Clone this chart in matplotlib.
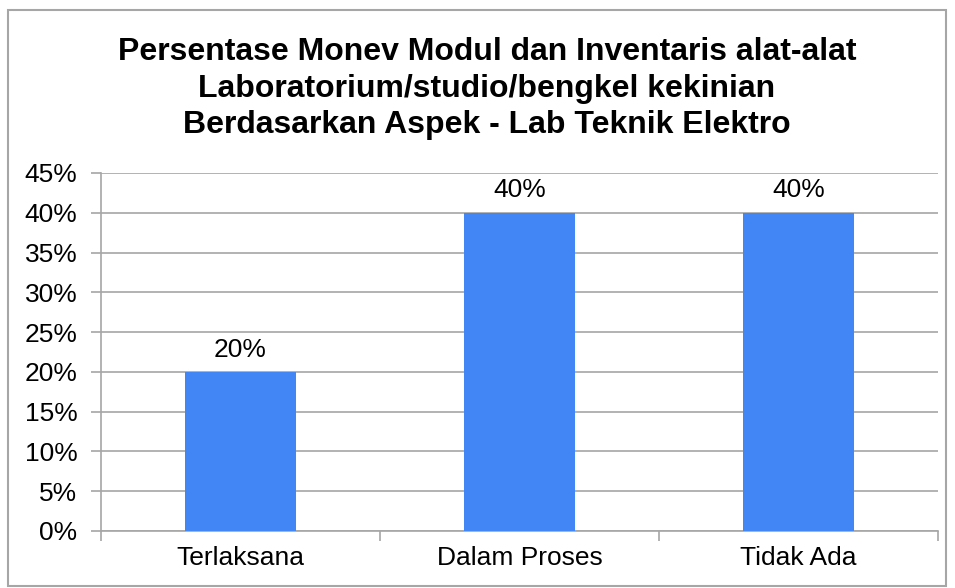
import matplotlib
matplotlib.use("Agg")
import matplotlib.pyplot as plt
from matplotlib.patches import Rectangle
from matplotlib.ticker import MultipleLocator, FuncFormatter

categories = ["Terlaksana", "Dalam Proses", "Tidak Ada"]
values = [20, 40, 40]
title = ("Persentase Monev Modul dan Inventaris alat-alat\n"
         "Laboratorium/studio/bengkel kekinian\n"
         "Berdasarkan Aspek - Lab Teknik Elektro")

plt.rcParams['font.family'] = ['Liberation Sans', 'DejaVu Sans']

W, H = 955, 588
fig = plt.figure(figsize=(W/100, H/100), dpi=100)
ax = fig.add_axes([101/W, 1-531/H, (938-101)/W, (531-173)/H])

FS = 19
x = range(len(categories))
ax.bar(x, values, width=0.40, color="#4285F4", zorder=3)
for xi, v in zip(x, values):
    ax.text(xi, v + 1.3, f"{v}%", ha="center", va="bottom", fontsize=FS)

ax.set_xlim(-0.5, len(categories) - 0.5)
ax.set_ylim(0, 45)
ax.yaxis.set_major_locator(MultipleLocator(5))
ax.yaxis.set_major_formatter(FuncFormatter(lambda v, p: f"{int(round(v))}%"))
ax.grid(axis="y", color="#A6A6A6", linewidth=1.2, zorder=0)
ax.set_xticks(x)
ax.set_xticklabels(categories, fontsize=FS)
ax.tick_params(axis="x", length=0, pad=11)
ax.set_xticks([-0.5, 0.5, 1.5, 2.5], minor=True)
ax.tick_params(axis="x", which="minor", length=7, color="#A6A6A6", width=1.2)
ax.tick_params(axis="y", length=7, color="#A6A6A6", width=1.2, labelsize=FS, pad=10)
for s in ["top", "right"]:
    ax.spines[s].set_visible(False)
for s in ["left", "bottom"]:
    ax.spines[s].set_color("#A6A6A6")
    ax.spines[s].set_linewidth(1.2)

fig.text(487/W, 1-37/H, title, ha="center", va="top", fontsize=23,
         fontweight="bold", linespacing=1.29)

fig.patches.append(Rectangle((8/W, 2/H), (946-8)/W, (578-2)/H, transform=fig.transFigure,
                             fill=False, edgecolor="#A6A6A6", linewidth=1.5))

fig.savefig("out.png", dpi=100)
